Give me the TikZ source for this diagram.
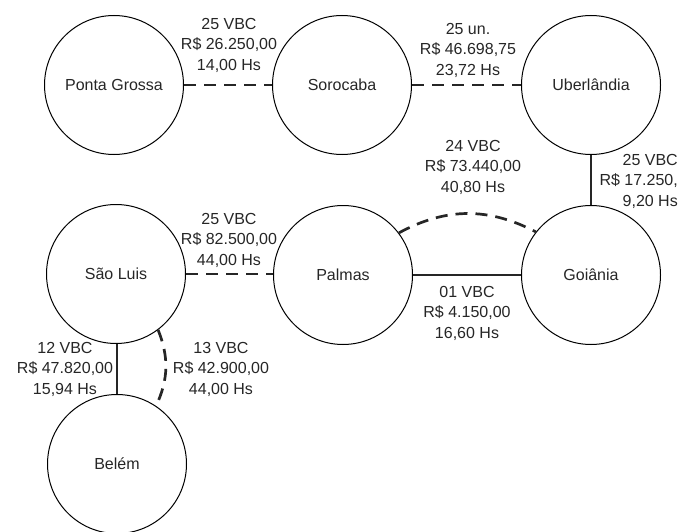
\documentclass[tikz,border=0pt]{standalone}
\usepackage{fontspec}
\setmainfont{Liberation Sans}
\begin{document}
\begin{tikzpicture}[x=1pt,y=-1pt,
  city/.style={circle,draw,line width=1pt,minimum size=139pt,inner sep=0pt,
    font=\fontsize{16}{20}\selectfont,text=black!85},
  info/.style={align=center,inner sep=0pt,text=black!85,
    font=\fontsize{16}{20.5}\selectfont},
  road/.style={line width=2.7pt,black!85},
  ferry/.style={road,dash pattern=on 12pt off 8pt}]
\useasboundingbox (0,0) rectangle (680,532);

% cities
\node[city] (pg) at (114,85)  {Ponta Grossa};
\node[city] (so) at (342,85)  {Sorocaba};
\node[city] (ub) at (591,85)  {Uberlândia};
\node[city] (sl) at (116,274) {São Luis};
\node[city] (pa) at (343,275) {Palmas};
\node[city] (go) at (591,275) {Goiânia};
\node[city] (be) at (117,464) {Belém};

% links
\draw[ferry] (pg.east) -- (so.west);
\draw[ferry] (so.east) -- (ub.west);
\draw[road]  (ub.south) -- (go.north);
\draw[ferry] (pa.37) to[bend left=28] (go.142);
\draw[road]  (pa.east) -- (go.west);
\draw[ferry] (sl.east) -- (sl.east -| pa.west);
\draw[road]  (be.north) -- (be.north |- sl.south);
\draw[ferry] (sl.-53) to[bend left=23] (be.56);

% link data
\node[info] (i1) at (229,45)  {25 VBC\\R\$ 26.250,00\\14,00 Hs};
\node[info] (i2) at (468,50)  {25 un.\\R\$ 46.698,75\\23,72 Hs};
\node[info] (i3) at (473,167) {24 VBC\\R\$ 73.440,00\\40,80 Hs};
\node[info,align=right,anchor=east] (i4) at (678,181) {25 VBC\\R\$ 17.250,\\9,20 Hs};
\node[info] (i5) at (229,240) {25 VBC\\R\$ 82.500,00\\44,00 Hs};
\node[info] (i6) at (467,313) {01 VBC\\R\$ 4.150,00\\16,60 Hs};
\node[info] (i7) at (65,369)  {12 VBC\\R\$ 47.820,00\\15,94 Hs};
\node[info] (i8) at (221,369) {13 VBC\\R\$ 42.900,00\\44,00 Hs};
\end{tikzpicture}
\end{document}
